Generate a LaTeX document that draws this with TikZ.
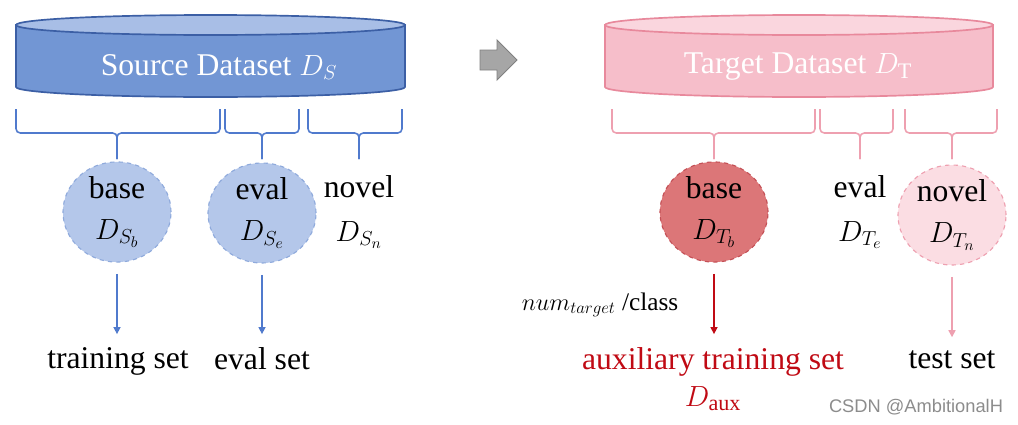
\documentclass[tikz,border=0pt]{standalone}
\usepackage{fontspec}
\setmainfont{Liberation Serif}
\newfontfamily\wmfont{Liberation Sans}
\usepackage{xcolor}
\definecolor{srcbody}{RGB}{114,150,212}
\definecolor{srctop}{RGB}{168,190,230}
\definecolor{srcline}{RGB}{60,95,165}
\definecolor{srcset}{RGB}{180,199,234}
\definecolor{srcdash}{RGB}{143,170,220}
\definecolor{srcbrace}{RGB}{80,122,205}
\definecolor{tgtbody}{RGB}{246,190,202}
\definecolor{tgttop}{RGB}{250,214,222}
\definecolor{tgtline}{RGB}{232,137,156}
\definecolor{tgtbrace}{RGB}{238,160,176}
\definecolor{tgtbase}{RGB}{220,118,120}
\definecolor{tgtbasedash}{RGB}{196,80,86}
\definecolor{tgtnovel}{RGB}{251,221,227}
\definecolor{auxred}{RGB}{192,10,20}
\usetikzlibrary{positioning, shapes.geometric, arrows.meta}

\begin{document}
\begin{tikzpicture}[
    x=0.025cm, y=0.025cm,
    lbl/.style={font=\fontsize{22.5}{27}\selectfont, align=center, inner sep=1pt},
    setlbl/.style={lbl, anchor=base},
    head/.style={font=\fontsize{22.5}{27}\selectfont, text=white},
    subset/.style={ellipse, dashed, line width=0.8pt, minimum width=2.7cm, minimum height=2.5cm,
      inner sep=0pt, align=center, font=\fontsize{22.5}{27}\selectfont},
    sbrace/.style={srcbrace, line width=1.1pt, rounded corners=3pt},
    tbrace/.style={tgtbrace, line width=1.1pt, rounded corners=3pt},
    flow/.style={line width=1pt, -{Triangle[width=5pt,length=5pt]}, shorten <=8pt, shorten >=8pt},
  ]
    \useasboundingbox (0,0) rectangle (1018,424);

    % Source dataset (cylinder)
    \filldraw[srcbody, draw=srcline, line width=1.2pt]
      (16,399) -- (16,337) arc[start angle=180, end angle=360, x radius=194.5, y radius=10]
      -- (405,399) -- cycle;
    \filldraw[fill=srctop, draw=srcline, line width=1.2pt] (210.5,399) ellipse[x radius=194.5, y radius=10];
    \node[head] (src) at (219,357) {Source Dataset $D_S$};

    % Target dataset (cylinder)
    \filldraw[tgtbody, draw=tgtline, line width=1.2pt]
      (605,399) -- (605,337) arc[start angle=180, end angle=360, x radius=194, y radius=10]
      -- (993,399) -- cycle;
    \filldraw[fill=tgttop, draw=tgtline, line width=1.2pt] (799,399) ellipse[x radius=194, y radius=10];
    \node[head] (tgt) at (798,357) {Target Dataset $D_{\mathrm{T}}$};

    % Transfer arrow
    \filldraw[fill=black!35, draw=black!50, line width=0.6pt]
      (480,374) -- (497,374) -- (497,384) -- (517,364) -- (497,344) -- (497,354) -- (480,354) -- cycle;

    % Source splits
    \node[subset, fill=srcset, draw=srcdash] (sbase) at (117,212) {base\\[2pt] $D_{S_b}$};
    \node[subset, fill=srcset, draw=srcdash] (seval) at (262,211) {eval\\[2pt] $D_{S_e}$};
    \node[lbl] (snovel) at (359,212) {novel\\[4pt] $D_{S_n}$};

    % Target splits
    \node[subset, fill=tgtbase, draw=tgtbasedash] (tbase) at (714,212) {base\\[2pt] $D_{T_b}$};
    \node[lbl] (teval) at (860,212) {eval\\[4pt] $D_{T_e}$};
    \node[subset, fill=tgtnovel, draw=tgtbrace] (tnovel) at (952,209) {novel\\[2pt] $D_{T_n}$};

    % Braces
    \foreach \a/\b/\n in {16/220/sbase, 225/299/seval, 308/402/snovel} {
      \draw[sbrace] (\a,315) -- (\a,291) -| (\n.north |- 0,265);
      \draw[sbrace] (\b,315) -- (\b,291) -| (\n.north |- 0,265);
    }
    \foreach \a/\b/\n in {612/815/tbase, 820/893/teval, 905/997/tnovel} {
      \draw[tbrace] (\a,315) -- (\a,291) -| (\n.north |- 0,265);
      \draw[tbrace] (\b,315) -- (\b,291) -| (\n.north |- 0,265);
    }

    % Resulting sets
    \node[setlbl] (train) at (118,56) {training set};
    \node[setlbl] (evalset) at (262,55) {eval set};
    \node[setlbl, text=auxred] (aux) at (713,55) {auxiliary training set};
    \node[lbl, text=auxred, below=5pt of aux] (daux) {$D_{\mathrm{aux}}$};
    \node[setlbl] (test) at (952,56) {test set};
    \node[font=\fontsize{18}{21}\selectfont] (num) at (600,119) {$num_{target}$ /class};

    \draw[flow, srcbrace] (sbase) -- (sbase |- train.north);
    \draw[flow, srcbrace] (seval) -- (seval |- evalset.north);
    \draw[flow, auxred] (tbase) -- (tbase |- aux.north);
    \draw[flow, tgtbrace] (tnovel) -- (tnovel |- test.north);

    \node[font=\wmfont\fontsize{13}{15}\selectfont, text=black!45] (mark) at (916,17) {CSDN @AmbitionalH};
  \end{tikzpicture}
\end{document}
